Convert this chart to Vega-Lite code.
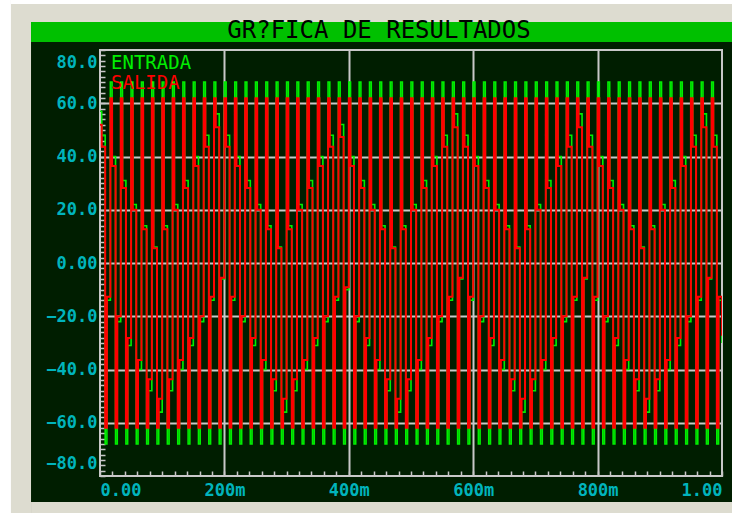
{
  "$schema": "https://vega.github.io/schema/vega-lite/v6.json",
  "width": 622,
  "height": 426,
  "autosize": {"type": "none"},
  "padding": {"left": 100, "top": 50, "right": 10, "bottom": 37},
  "background": "#001e00",
  "title": {
    "text": "GR?FICA DE RESULTADOS",
    "anchor": "middle",
    "frame": "group",
    "dx": -32,
    "offset": -55,
    "baseline": "middle",
    "font": "DejaVu Sans Mono",
    "fontSize": 24,
    "fontWeight": "normal",
    "color": "#000000"
  },
  "data": {
    "values": [
      {"t":0,"entrada":57,"salida":51.9},{"t":2.78,"entrada":48,"salida":43.7},{"t":8.33,"entrada":-68,"salida":-61.9},{"t":11.11,"entrada":-14,"salida":-12.7},
      {"t":16.67,"entrada":68,"salida":61.9},{"t":19.44,"entrada":40,"salida":36.4},{"t":25,"entrada":-68,"salida":-61.9},{"t":27.78,"entrada":-22,"salida":-20},
      {"t":33.33,"entrada":68,"salida":61.9},{"t":36.11,"entrada":31,"salida":28.2},{"t":41.67,"entrada":-68,"salida":-61.9},{"t":44.44,"entrada":-31,"salida":-28.2},
      {"t":50,"entrada":68,"salida":61.9},{"t":52.78,"entrada":22,"salida":20},{"t":58.33,"entrada":-68,"salida":-61.9},{"t":61.11,"entrada":-40,"salida":-36.4},
      {"t":66.67,"entrada":68,"salida":61.9},{"t":69.44,"entrada":14,"salida":12.7},{"t":75,"entrada":-68,"salida":-61.9},{"t":77.78,"entrada":-48,"salida":-43.7},
      {"t":83.33,"entrada":68,"salida":61.9},{"t":86.11,"entrada":6,"salida":5.5},{"t":91.67,"entrada":-68,"salida":-61.9},{"t":94.44,"entrada":-56,"salida":-51},
      {"t":100,"entrada":68,"salida":61.9},{"t":102.78,"entrada":14,"salida":12.7},{"t":108.33,"entrada":-68,"salida":-61.9},{"t":111.11,"entrada":-48,"salida":-43.7},
      {"t":116.67,"entrada":68,"salida":61.9},{"t":119.44,"entrada":22,"salida":20},{"t":125,"entrada":-68,"salida":-61.9},{"t":127.78,"entrada":-40,"salida":-36.4},
      {"t":133.33,"entrada":68,"salida":61.9},{"t":136.11,"entrada":31,"salida":28.2},{"t":141.67,"entrada":-68,"salida":-61.9},{"t":144.44,"entrada":-31,"salida":-28.2},
      {"t":150,"entrada":68,"salida":61.9},{"t":152.78,"entrada":40,"salida":36.4},{"t":158.33,"entrada":-68,"salida":-61.9},{"t":161.11,"entrada":-22,"salida":-20},
      {"t":166.67,"entrada":68,"salida":61.9},{"t":169.44,"entrada":48,"salida":43.7},{"t":175,"entrada":-68,"salida":-61.9},{"t":177.78,"entrada":-14,"salida":-12.7},
      {"t":183.33,"entrada":68,"salida":61.9},{"t":186.11,"entrada":56,"salida":51},{"t":191.67,"entrada":-68,"salida":-61.9},{"t":194.44,"entrada":-6,"salida":-5.5},
      {"t":200,"entrada":68,"salida":61.9},{"t":202.78,"entrada":48,"salida":43.7},{"t":208.33,"entrada":-68,"salida":-61.9},{"t":211.11,"entrada":-14,"salida":-12.7},
      {"t":216.67,"entrada":68,"salida":61.9},{"t":219.44,"entrada":40,"salida":36.4},{"t":225,"entrada":-68,"salida":-61.9},{"t":227.78,"entrada":-22,"salida":-20},
      {"t":233.33,"entrada":68,"salida":61.9},{"t":236.11,"entrada":31,"salida":28.2},{"t":241.67,"entrada":-68,"salida":-61.9},{"t":244.44,"entrada":-31,"salida":-28.2},
      {"t":250,"entrada":68,"salida":61.9},{"t":252.78,"entrada":22,"salida":20},{"t":258.33,"entrada":-68,"salida":-61.9},{"t":261.11,"entrada":-40,"salida":-36.4},
      {"t":266.67,"entrada":68,"salida":61.9},{"t":269.44,"entrada":14,"salida":12.7},{"t":275,"entrada":-68,"salida":-61.9},{"t":277.78,"entrada":-48,"salida":-43.7},
      {"t":283.33,"entrada":68,"salida":61.9},{"t":286.11,"entrada":6,"salida":5.5},{"t":291.67,"entrada":-68,"salida":-61.9},{"t":294.44,"entrada":-56,"salida":-51},
      {"t":300,"entrada":68,"salida":61.9},{"t":302.78,"entrada":14,"salida":12.7},{"t":308.33,"entrada":-68,"salida":-61.9},{"t":311.11,"entrada":-48,"salida":-43.7},
      {"t":316.67,"entrada":68,"salida":61.9},{"t":319.44,"entrada":22,"salida":20},{"t":325,"entrada":-68,"salida":-61.9},{"t":327.78,"entrada":-40,"salida":-36.4},
      {"t":333.33,"entrada":68,"salida":61.9},{"t":336.11,"entrada":31,"salida":28.2},{"t":341.67,"entrada":-68,"salida":-61.9},{"t":344.44,"entrada":-31,"salida":-28.2},
      {"t":350,"entrada":68,"salida":61.9},{"t":352.78,"entrada":40,"salida":36.4},{"t":358.33,"entrada":-68,"salida":-61.9},{"t":361.11,"entrada":-22,"salida":-20},
      {"t":366.67,"entrada":68,"salida":61.9},{"t":369.44,"entrada":48,"salida":43.7},{"t":375,"entrada":-68,"salida":-61.9},{"t":377.78,"entrada":-14,"salida":-12.7},
      {"t":383.33,"entrada":68,"salida":61.9},{"t":386.11,"entrada":52,"salida":47.3},{"t":391.67,"entrada":-68,"salida":-61.9},{"t":394.44,"entrada":-10,"salida":-9.1},
      {"t":400,"entrada":68,"salida":61.9},{"t":402.78,"entrada":40,"salida":36.4},{"t":408.33,"entrada":-68,"salida":-61.9},{"t":411.11,"entrada":-22,"salida":-20},
      {"t":416.67,"entrada":68,"salida":61.9},{"t":419.44,"entrada":31,"salida":28.2},{"t":425,"entrada":-68,"salida":-61.9},{"t":427.78,"entrada":-31,"salida":-28.2},
      {"t":433.33,"entrada":68,"salida":61.9},{"t":436.11,"entrada":22,"salida":20},{"t":441.67,"entrada":-68,"salida":-61.9},{"t":444.44,"entrada":-40,"salida":-36.4},
      {"t":450,"entrada":68,"salida":61.9},{"t":452.78,"entrada":14,"salida":12.7},{"t":458.33,"entrada":-68,"salida":-61.9},{"t":461.11,"entrada":-48,"salida":-43.7},
      {"t":466.67,"entrada":68,"salida":61.9},{"t":469.44,"entrada":6,"salida":5.5},{"t":475,"entrada":-68,"salida":-61.9},{"t":477.78,"entrada":-56,"salida":-51},
      {"t":483.33,"entrada":68,"salida":61.9},{"t":486.11,"entrada":14,"salida":12.7},{"t":491.67,"entrada":-68,"salida":-61.9},{"t":494.44,"entrada":-48,"salida":-43.7},
      {"t":500,"entrada":68,"salida":61.9},{"t":502.78,"entrada":22,"salida":20},{"t":508.33,"entrada":-68,"salida":-61.9},{"t":511.11,"entrada":-40,"salida":-36.4},
      {"t":516.67,"entrada":68,"salida":61.9},{"t":519.44,"entrada":31,"salida":28.2},{"t":525,"entrada":-68,"salida":-61.9},{"t":527.78,"entrada":-31,"salida":-28.2},
      {"t":533.33,"entrada":68,"salida":61.9},{"t":536.11,"entrada":40,"salida":36.4},{"t":541.67,"entrada":-68,"salida":-61.9},{"t":544.44,"entrada":-22,"salida":-20},
      {"t":550,"entrada":68,"salida":61.9},{"t":552.78,"entrada":48,"salida":43.7},{"t":558.33,"entrada":-68,"salida":-61.9},{"t":561.11,"entrada":-14,"salida":-12.7},
      {"t":566.67,"entrada":68,"salida":61.9},{"t":569.44,"entrada":56,"salida":51},{"t":575,"entrada":-68,"salida":-61.9},{"t":577.78,"entrada":-6,"salida":-5.5},
      {"t":583.33,"entrada":68,"salida":61.9},{"t":586.11,"entrada":48,"salida":43.7},{"t":591.67,"entrada":-68,"salida":-61.9},{"t":594.44,"entrada":-14,"salida":-12.7},
      {"t":600,"entrada":68,"salida":61.9},{"t":602.78,"entrada":40,"salida":36.4},{"t":608.33,"entrada":-68,"salida":-61.9},{"t":611.11,"entrada":-22,"salida":-20},
      {"t":616.67,"entrada":68,"salida":61.9},{"t":619.44,"entrada":31,"salida":28.2},{"t":625,"entrada":-68,"salida":-61.9},{"t":627.78,"entrada":-31,"salida":-28.2},
      {"t":633.33,"entrada":68,"salida":61.9},{"t":636.11,"entrada":22,"salida":20},{"t":641.67,"entrada":-68,"salida":-61.9},{"t":644.44,"entrada":-40,"salida":-36.4},
      {"t":650,"entrada":68,"salida":61.9},{"t":652.78,"entrada":14,"salida":12.7},{"t":658.33,"entrada":-68,"salida":-61.9},{"t":661.11,"entrada":-48,"salida":-43.7},
      {"t":666.67,"entrada":68,"salida":61.9},{"t":669.44,"entrada":6,"salida":5.5},{"t":675,"entrada":-68,"salida":-61.9},{"t":677.78,"entrada":-56,"salida":-51},
      {"t":683.33,"entrada":68,"salida":61.9},{"t":686.11,"entrada":14,"salida":12.7},{"t":691.67,"entrada":-68,"salida":-61.9},{"t":694.44,"entrada":-48,"salida":-43.7},
      {"t":700,"entrada":68,"salida":61.9},{"t":702.78,"entrada":22,"salida":20},{"t":708.33,"entrada":-68,"salida":-61.9},{"t":711.11,"entrada":-40,"salida":-36.4},
      {"t":716.67,"entrada":68,"salida":61.9},{"t":719.44,"entrada":31,"salida":28.2},{"t":725,"entrada":-68,"salida":-61.9},{"t":727.78,"entrada":-31,"salida":-28.2},
      {"t":733.33,"entrada":68,"salida":61.9},{"t":736.11,"entrada":40,"salida":36.4},{"t":741.67,"entrada":-68,"salida":-61.9},{"t":744.44,"entrada":-22,"salida":-20},
      {"t":750,"entrada":68,"salida":61.9},{"t":752.78,"entrada":48,"salida":43.7},{"t":758.33,"entrada":-68,"salida":-61.9},{"t":761.11,"entrada":-14,"salida":-12.7},
      {"t":766.67,"entrada":68,"salida":61.9},{"t":769.44,"entrada":56,"salida":51},{"t":775,"entrada":-68,"salida":-61.9},{"t":777.78,"entrada":-6,"salida":-5.5},
      {"t":783.33,"entrada":68,"salida":61.9},{"t":786.11,"entrada":48,"salida":43.7},{"t":791.67,"entrada":-68,"salida":-61.9},{"t":794.44,"entrada":-14,"salida":-12.7},
      {"t":800,"entrada":68,"salida":61.9},{"t":802.78,"entrada":40,"salida":36.4},{"t":808.33,"entrada":-68,"salida":-61.9},{"t":811.11,"entrada":-22,"salida":-20},
      {"t":816.67,"entrada":68,"salida":61.9},{"t":819.44,"entrada":31,"salida":28.2},{"t":825,"entrada":-68,"salida":-61.9},{"t":827.78,"entrada":-31,"salida":-28.2},
      {"t":833.33,"entrada":68,"salida":61.9},{"t":836.11,"entrada":22,"salida":20},{"t":841.67,"entrada":-68,"salida":-61.9},{"t":844.44,"entrada":-40,"salida":-36.4},
      {"t":850,"entrada":68,"salida":61.9},{"t":852.78,"entrada":14,"salida":12.7},{"t":858.33,"entrada":-68,"salida":-61.9},{"t":861.11,"entrada":-48,"salida":-43.7},
      {"t":866.67,"entrada":68,"salida":61.9},{"t":869.44,"entrada":6,"salida":5.5},{"t":875,"entrada":-68,"salida":-61.9},{"t":877.78,"entrada":-56,"salida":-51},
      {"t":883.33,"entrada":68,"salida":61.9},{"t":886.11,"entrada":14,"salida":12.7},{"t":891.67,"entrada":-68,"salida":-61.9},{"t":894.44,"entrada":-48,"salida":-43.7},
      {"t":900,"entrada":68,"salida":61.9},{"t":902.78,"entrada":22,"salida":20},{"t":908.33,"entrada":-68,"salida":-61.9},{"t":911.11,"entrada":-40,"salida":-36.4},
      {"t":916.67,"entrada":68,"salida":61.9},{"t":919.44,"entrada":31,"salida":28.2},{"t":925,"entrada":-68,"salida":-61.9},{"t":927.78,"entrada":-31,"salida":-28.2},
      {"t":933.33,"entrada":68,"salida":61.9},{"t":936.11,"entrada":40,"salida":36.4},{"t":941.67,"entrada":-68,"salida":-61.9},{"t":944.44,"entrada":-22,"salida":-20},
      {"t":950,"entrada":68,"salida":61.9},{"t":952.78,"entrada":48,"salida":43.7},{"t":958.33,"entrada":-68,"salida":-61.9},{"t":961.11,"entrada":-14,"salida":-12.7},
      {"t":966.67,"entrada":68,"salida":61.9},{"t":969.44,"entrada":56,"salida":51},{"t":975,"entrada":-68,"salida":-61.9},{"t":977.78,"entrada":-6,"salida":-5.5},
      {"t":983.33,"entrada":68,"salida":61.9},{"t":986.11,"entrada":48,"salida":43.7},{"t":991.67,"entrada":-68,"salida":-61.9},{"t":994.44,"entrada":-14,"salida":-12.7},
      {"t":1000,"entrada":-30,"salida":-27.3}
    ]
  },
  "layer": [
    {
      "data": {"values": [{"parte": "margen izquierdo"}]},
      "mark": {"type": "rect", "color": "#dddcd0", "clip": false},
      "encoding": {"x": {"datum": -143.1}, "x2": {"datum": -110.9}, "y": {"datum": 97.3}, "y2": {"datum": -96}}
    },
    {
      "data": {"values": [{"parte": "margen superior"}]},
      "mark": {"type": "rect", "color": "#dddcd0", "clip": false},
      "encoding": {"x": {"datum": -143.1}, "x2": {"datum": 1030}, "y": {"datum": 97.3}, "y2": {"datum": 90.5}}
    },
    {
      "data": {"values": [{"parte": "margen inferior"}]},
      "mark": {"type": "rect", "color": "#dddcd0", "clip": false},
      "encoding": {"x": {"datum": -110.9}, "x2": {"datum": 1030}, "y": {"datum": -89.8}, "y2": {"datum": -96}}
    },
    {
      "data": {"values": [{"parte": "borde blanco izquierdo"}]},
      "mark": {"type": "rect", "color": "#ffffff", "clip": false},
      "encoding": {"x": {"datum": -170}, "x2": {"datum": -143.1}, "y": {"datum": 98.78}, "y2": {"datum": -96}}
    },
    {
      "data": {"values": [{"parte": "borde blanco superior"}]},
      "mark": {"type": "rect", "color": "#ffffff", "clip": false},
      "encoding": {"x": {"datum": -143.1}, "x2": {"datum": 1030}, "y": {"datum": 98.78}, "y2": {"datum": 97.3}}
    },
    {
      "data": {"values": [{"parte": "barra de titulo"}]},
      "mark": {"type": "rect", "color": "#00c000", "clip": false},
      "encoding": {"x": {"datum": -110.9}, "x2": {"datum": 1030}, "y": {"datum": 90.5}, "y2": {"datum": 83.0}}
    },
    {
      "mark": {"type": "line", "interpolate": "step-after", "strokeWidth": 1.6, "clip": true},
      "encoding": {
        "x": {"field": "t", "type": "quantitative"},
        "y": {"field": "entrada", "type": "quantitative"},
        "color": {"datum": "ENTRADA", "type": "nominal"}
      }
    },
    {
      "mark": {"type": "line", "interpolate": "step-after", "strokeWidth": 2, "clip": true},
      "encoding": {
        "x": {"field": "t", "type": "quantitative"},
        "y": {"field": "salida", "type": "quantitative"},
        "color": {"datum": "SALIDA", "type": "nominal"}
      }
    }
  ],
  "encoding": {
    "x": {
      "type": "quantitative",
      "scale": {"domain": [0, 1000], "nice": false, "zero": false},
      "axis": {
        "title": null,
        "values": [0,20,40,60,80,100,120,140,160,180,200,220,240,260,280,300,320,340,360,380,400,420,440,460,480,500,520,540,560,580,600,620,640,660,680,700,720,740,760,780,800,820,840,860,880,900,920,940,960,980,1000],
        "labelExpr": "datum.value === 0 ? '0.00' : (datum.value === 1000 ? '1.00' : (datum.value % 200 === 0 ? datum.value + 'm' : ''))",
        "labelFlush": true,
        "labelOverlap": false,
        "labelPadding": 11,
        "grid": true,
        "gridOpacity": {"condition": {"test": "datum.value % 200 === 0 && datum.value > 0 && datum.value < 1000", "value": 1}, "value": 0},
        "tickSize": -5
      }
    },
    "y": {
      "type": "quantitative",
      "scale": {"domain": [-80, 80], "nice": false, "zero": false},
      "axis": {
        "title": null,
        "values": [-80,-78,-76,-74,-72,-70,-68,-66,-64,-62,-60,-58,-56,-54,-52,-50,-48,-46,-44,-42,-40,-38,-36,-34,-32,-30,-28,-26,-24,-22,-20,-18,-16,-14,-12,-10,-8,-6,-4,-2,0,2,4,6,8,10,12,14,16,18,20,22,24,26,28,30,32,34,36,38,40,42,44,46,48,50,52,54,56,58,60,62,64,66,68,70,72,74,76,78,80],
        "labelExpr": "datum.value % 20 !== 0 ? '' : (datum.value === 0 ? '0.00' : format(datum.value, '.1f'))",
        "labelFlush": true,
        "labelFlushOffset": -4,
        "labelOverlap": false,
        "labelPadding": 8,
        "grid": true,
        "gridOpacity": {"condition": {"test": "datum.value % 20 === 0 && abs(datum.value) < 80", "value": 1}, "value": 0},
        "tickSize": -5
      }
    },
    "color": {
      "type": "nominal",
      "scale": {"domain": ["ENTRADA", "SALIDA"], "range": ["#00ee00", "#ff0000"]},
      "legend": {
        "title": null,
        "orient": "top-left",
        "offset": 3,
        "padding": 0,
        "symbolType": "stroke",
        "symbolSize": 0,
        "symbolStrokeWidth": 0,
        "symbolOpacity": 0,
        "labelOffset": -11,
        "labelFont": "DejaVu Sans Mono",
        "labelFontSize": 19,
        "labelLimit": 0,
        "rowPadding": 0,
        "encode": {"labels": {"update": {"fill": {"signal": "datum.value === 'ENTRADA' ? '#00ee00' : '#ff0000'"}}}}
      }
    }
  },
  "config": {
    "view": {"fill": "#001e00", "stroke": "#c8c8c8", "strokeWidth": 2},
    "axis": {
      "domain": false,
      "gridColor": "#c8c8c8",
      "gridWidth": 2,
      "tickColor": "#c8c8c8",
      "tickWidth": 1.5,
      "labelColor": "#00b4bc",
      "labelFont": "DejaVu Sans Mono",
      "labelFontSize": 17,
      "labelFontWeight": "bold"
    }
  }
}
